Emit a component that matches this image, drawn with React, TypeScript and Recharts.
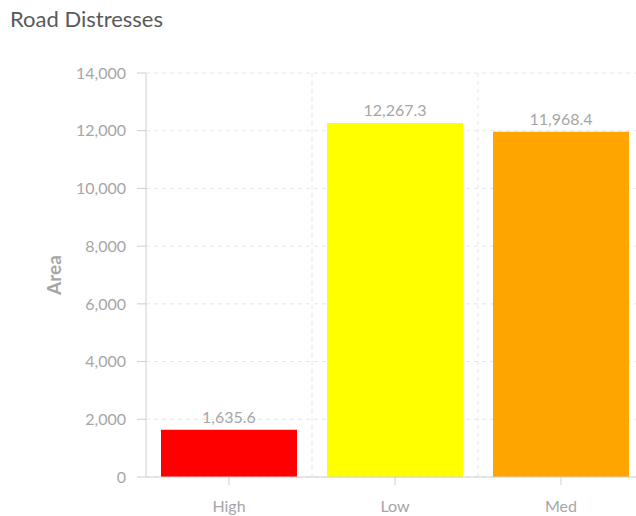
import { BarChart, Bar, XAxis, YAxis, CartesianGrid, Cell, LabelList } from "recharts";

const categories = ["High", "Low", "Med"];
const areas = [1635.6, 12267.3, 11968.4];
const barColors = ["#ff0000", "#ffff00", "#ffa500"];
const yTicks = [0, 2000, 4000, 6000, 8000, 10000, 12000, 14000];

const data = categories.map((c, i) => ({ level: c, area: areas[i] }));

const FONT = "Lato, 'Open Sans', sans-serif";
const tickStyle = { fill: "#a6a6a6", fontSize: 16, fontFamily: FONT };

export default function App() {
  return (
    <div style={{ position: "absolute", left: 0, top: 0, width: 636, height: 516, overflow: "hidden", background: "#fff" }}>
      <div style={{ position: "absolute", left: 10, top: 5, fontFamily: FONT, fontSize: 22, color: "#5a5a5a" }}>
        Road Distresses
      </div>
      <BarChart width={644} height={516} data={data} margin={{ top: 73, right: 0, bottom: 0, left: 0 }}>
        <CartesianGrid
          stroke="#e6e6e6"
          strokeDasharray="4 4"
          verticalCoordinatesGenerator={({ offset }: any) =>
            categories.map((_, i) => offset.left + ((i + 1) * offset.width) / categories.length)
          }
        />
        <XAxis
          dataKey="level"
          height={39}
          tick={tickStyle}
          tickSize={8}
          tickMargin={16}
          stroke="#cfcfcf"
        />
        <YAxis
          width={146}
          domain={[0, 14000]}
          ticks={yTicks}
          tick={tickStyle}
          tickSize={9}
          tickMargin={11}
          stroke="#cfcfcf"
          tickFormatter={(v) => v.toLocaleString("en-US")}
          label={{
            content: ({ viewBox }: any) => (
              <text
                x={53}
                y={viewBox.y + viewBox.height / 2}
                transform={`rotate(-90, 53, ${viewBox.y + viewBox.height / 2})`}
                textAnchor="middle"
                dominantBaseline="central"
                fill="#a6a6a6"
                fontSize={19}
                fontWeight="bold"
                fontFamily={FONT}
              >
                Area
              </text>
            ),
          }}
        />
        <Bar dataKey="area" barSize={136} isAnimationActive={false}>
          {data.map((d, i) => (
            <Cell key={d.level} fill={barColors[i]} />
          ))}
          <LabelList
            dataKey="area"
            position="top"
            offset={7}
            fill="#a6a6a6"
            fontSize={16}
            fontFamily={FONT}
            formatter={(v: any) => Number(v).toLocaleString("en-US", { minimumFractionDigits: 1, maximumFractionDigits: 1 })}
          />
        </Bar>
      </BarChart>
    </div>
  );
}
